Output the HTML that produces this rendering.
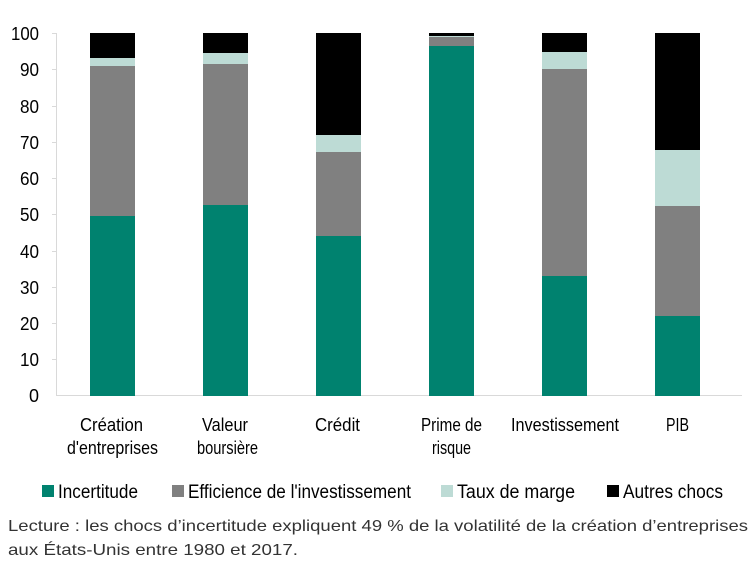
<!DOCTYPE html>
<html><head><meta charset="utf-8"><style>
body{margin:0;background:#fff;}
svg text{font-family:"Liberation Sans",sans-serif;fill:#000;}
</style></head><body>
<svg width="754" height="582" xmlns="http://www.w3.org/2000/svg">
<g stroke="#d9d9d9" stroke-width="1">
<line x1="56.5" y1="33" x2="56.5" y2="396"/>
<line x1="56" y1="395.5" x2="742" y2="395.5"/>
<line x1="52" y1="33.5" x2="56" y2="33.5"/><line x1="52" y1="69.5" x2="56" y2="69.5"/>
<line x1="52" y1="106.5" x2="56" y2="106.5"/><line x1="52" y1="142.5" x2="56" y2="142.5"/>
<line x1="52" y1="178.5" x2="56" y2="178.5"/><line x1="52" y1="214.5" x2="56" y2="214.5"/>
<line x1="52" y1="251.5" x2="56" y2="251.5"/><line x1="52" y1="287.5" x2="56" y2="287.5"/>
<line x1="52" y1="323.5" x2="56" y2="323.5"/><line x1="52" y1="359.5" x2="56" y2="359.5"/>
</g>
<g font-size="18" text-anchor="end">
<text x="39" y="40" textLength="28" lengthAdjust="spacingAndGlyphs">100</text>
<text x="39" y="76" textLength="19" lengthAdjust="spacingAndGlyphs">90</text>
<text x="39" y="113" textLength="19" lengthAdjust="spacingAndGlyphs">80</text>
<text x="39" y="149" textLength="19" lengthAdjust="spacingAndGlyphs">70</text>
<text x="39" y="185" textLength="19" lengthAdjust="spacingAndGlyphs">60</text>
<text x="39" y="221" textLength="19" lengthAdjust="spacingAndGlyphs">50</text>
<text x="39" y="258" textLength="19" lengthAdjust="spacingAndGlyphs">40</text>
<text x="39" y="294" textLength="19" lengthAdjust="spacingAndGlyphs">30</text>
<text x="39" y="330" textLength="19" lengthAdjust="spacingAndGlyphs">20</text>
<text x="39" y="366" textLength="19" lengthAdjust="spacingAndGlyphs">10</text>
<text x="39" y="402" textLength="10" lengthAdjust="spacingAndGlyphs">0</text>
</g>
<g>
<rect x="90" y="216" width="45" height="180" fill="#00826f"/>
<rect x="90" y="66" width="45" height="150" fill="#808080"/>
<rect x="90" y="58" width="45" height="8" fill="#bddbd5"/>
<rect x="90" y="33" width="45" height="25" fill="#000"/>
<rect x="203" y="205" width="45" height="191" fill="#00826f"/>
<rect x="203" y="64" width="45" height="141" fill="#808080"/>
<rect x="203" y="53" width="45" height="11" fill="#bddbd5"/>
<rect x="203" y="33" width="45" height="20" fill="#000"/>
<rect x="316" y="236" width="45" height="160" fill="#00826f"/>
<rect x="316" y="152" width="45" height="84" fill="#808080"/>
<rect x="316" y="135" width="45" height="17" fill="#bddbd5"/>
<rect x="316" y="33" width="45" height="102" fill="#000"/>
<rect x="429" y="46" width="45" height="350" fill="#00826f"/>
<rect x="429" y="37" width="45" height="9" fill="#808080"/>
<rect x="429" y="36" width="45" height="1" fill="#bddbd5"/>
<rect x="429" y="33" width="45" height="3" fill="#000"/>
<rect x="542" y="276" width="45" height="120" fill="#00826f"/>
<rect x="542" y="69" width="45" height="207" fill="#808080"/>
<rect x="542" y="52" width="45" height="17" fill="#bddbd5"/>
<rect x="542" y="33" width="45" height="19" fill="#000"/>
<rect x="655" y="316" width="45" height="80" fill="#00826f"/>
<rect x="655" y="206" width="45" height="110" fill="#808080"/>
<rect x="655" y="150" width="45" height="56" fill="#bddbd5"/>
<rect x="655" y="33" width="45" height="117" fill="#000"/>
</g>
<g font-size="18">
<text x="80" y="431" textLength="63" lengthAdjust="spacingAndGlyphs">Création</text>
<text x="67" y="454" textLength="91" lengthAdjust="spacingAndGlyphs">d'entreprises</text>
<text x="202" y="431" textLength="46" lengthAdjust="spacingAndGlyphs">Valeur</text>
<text x="197" y="454" textLength="61" lengthAdjust="spacingAndGlyphs">boursière</text>
<text x="315" y="431" textLength="45" lengthAdjust="spacingAndGlyphs">Crédit</text>
<text x="421" y="431" textLength="61" lengthAdjust="spacingAndGlyphs">Prime de</text>
<text x="432" y="454" textLength="39" lengthAdjust="spacingAndGlyphs">risque</text>
<text x="511" y="431" textLength="108" lengthAdjust="spacingAndGlyphs">Investissement</text>
<text x="666" y="431" textLength="23" lengthAdjust="spacingAndGlyphs">PIB</text>
</g>
<g font-size="19">
<rect x="42" y="485" width="12" height="12" fill="#00826f"/><text x="58" y="498" textLength="80" lengthAdjust="spacingAndGlyphs">Incertitude</text>
<rect x="172" y="485" width="12" height="12" fill="#808080"/><text x="188" y="498" textLength="223" lengthAdjust="spacingAndGlyphs">Efficience de l'investissement</text>
<rect x="441" y="485" width="12" height="12" fill="#bddbd5"/><text x="457" y="498" textLength="118" lengthAdjust="spacingAndGlyphs">Taux de marge</text>
<rect x="607" y="485" width="12" height="12" fill="#000"/><text x="623" y="498" textLength="100" lengthAdjust="spacingAndGlyphs">Autres chocs</text>
</g>
<g font-size="16">
<text x="8" y="531" style="fill:#333" textLength="740" lengthAdjust="spacingAndGlyphs">Lecture : les chocs d’incertitude expliquent 49 % de la volatilité de la création d’entreprises</text>
<text x="8" y="555" style="fill:#333" textLength="290" lengthAdjust="spacingAndGlyphs">aux États-Unis entre 1980 et 2017.</text>
</g>
</svg>
</body></html>
